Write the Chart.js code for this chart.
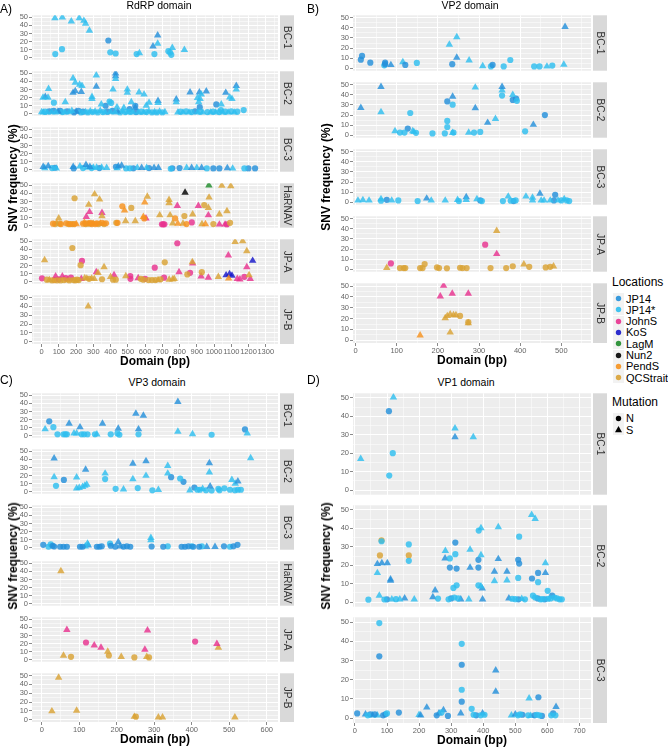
<!DOCTYPE html>
<html>
<head>
<meta charset="utf-8">
<script src="https://cdn.jsdelivr.net/npm/chart.js@4.4.1/dist/chart.umd.min.js"></script>
<style>
  body { margin: 0; background: #fff; width: 668px; height: 747px; position: relative; overflow: hidden;
         font-family: "Liberation Sans", Arial, sans-serif; }
  .t { position: absolute; white-space: nowrap; line-height: 1; color: #000; }
  canvas { position: absolute; }
</style>
</head>
<body>
<script>
// ── categories / tick labels ──
const LOCS = ['JP14', 'JP14*', 'JohnS', 'KoS', 'LagM', 'Nun2', 'PendS', 'QCStrait'];
const MUTS = ['N', 'S'];
const yTicks = [0, 10, 20, 30, 40, 50];
const rdrpXTicks = [0, 100, 200, 300, 400, 500, 600, 700, 800, 900, 1000, 1100, 1200, 1300];
const vp2XTicks = [0, 100, 200, 300, 400, 500];
const vp3XTicks = [0, 100, 200, 300, 400, 500, 600];
const vp1XTicks = [0, 100, 200, 300, 400, 500, 600, 700];

// ── points: [domain bp, SNV %, location index, mutation] ──
const rdrpBC1 = [
  [77,49,1,'S'],[120,50,1,'S'],[172,45,1,'S'],[218,49,1,'S'],[245,45.8,1,'S'],[255,42.3,1,'S'],[277,33.6,1,'S'],
  [79,4.5,1,'N'],[118,10.5,1,'N'],[387,21.3,0,'N'],[398,6.6,1,'N'],[429,5.2,1,'N'],[551,4.5,1,'N'],[567,5.6,1,'S'],
  [654,4.5,1,'N'],[646,14,0,'S'],[673,27.6,0,'S'],[673,17.5,1,'S'],[735,8,1,'N'],[745,6.3,1,'N'],[752,3.5,1,'N'],
  [758,12.2,1,'S'],[828,9.8,1,'S']
];
const rdrpBC2 = [
  [8,20,1,'S'],[21,21,0,'S'],[37,20,1,'S'],[40,30.8,1,'S'],[71,13.6,1,'N'],[137,14.3,1,'S'],
  [182,43.7,1,'S'],[195,38.5,1,'S'],[220,36,1,'S'],[234,34.6,1,'S'],[182,26,0,'S'],[195,28,0,'S'],[230,27,0,'S'],
  [317,47.5,1,'S'],[317,33.6,0,'S'],[292,21,1,'S'],[292,18.5,1,'S'],[346,11.5,1,'S'],
  [394,15,1,'N'],[403,13.3,1,'N'],[371,9.8,0,'N'],[429,50,0,'S'],[429,46.5,0,'S'],[429,43,1,'S'],[414,30,1,'S'],
  [437,8,1,'S'],[477,7.3,1,'S'],[497,30,1,'S'],[497,26,1,'S'],[510,5.6,0,'N'],[543,9.8,0,'N'],[543,7.3,0,'S'],
  [520,14.3,1,'S'],[565,26.5,1,'S'],[594,23.8,1,'S'],[623,13.6,1,'S'],[607,10,1,'S'],[675,16,0,'S'],[675,13.3,1,'S'],
  [781,17.8,0,'S'],[781,14.3,1,'S'],[861,26.5,0,'S'],[915,26.5,0,'S'],[926,23.8,1,'S'],[904,19.6,1,'S'],
  [919,18.5,1,'S'],[911,14.3,1,'S'],[917,8,0,'N'],[955,27.6,0,'S'],[1013,11.5,0,'N'],[1042,11.5,1,'S'],
  [1040,4.5,1,'N'],[1068,26,0,'S'],[1091,20.3,1,'S'],[1104,18.5,1,'S'],[1129,34.6,0,'S'],[1129,30,1,'S'],
  [1172,4.5,1,'N'],
  [0,2,1,'S'],[10,1.5,1,'S'],[20,2.5,1,'N'],[32,1.5,1,'S'],[45,3,0,'N'],[58,2,1,'S'],[70,3.5,0,'N'],[82,1.5,1,'S'],
  [95,2.5,0,'S'],[108,3.5,0,'N'],[120,2,1,'N'],[135,1.5,1,'S'],[148,3,0,'N'],[160,2,1,'S'],[175,3.5,1,'S'],
  [188,1.5,0,'N'],[200,2.5,0,'S'],[214,3.5,0,'N'],[228,1.5,1,'N'],[240,2.5,0,'N'],[255,2,1,'S'],[268,1.5,1,'N'],
  [282,3,1,'S'],[296,2,1,'N'],[310,2.5,1,'S'],[325,1.5,1,'N'],[340,3.5,1,'S'],[355,2,1,'N'],[368,1.5,1,'S'],
  [382,2.5,0,'N'],[398,2,1,'S'],[412,3.5,0,'N'],[426,1.5,1,'S'],[440,2.5,0,'S'],[455,1.5,1,'N'],[470,3,1,'S'],
  [485,2,1,'N'],[500,1.5,1,'S'],[515,2.5,1,'N'],[530,1.5,1,'S'],[548,2,0,'N'],[562,1.5,1,'S'],[578,2.5,1,'N'],
  [592,1.5,1,'S'],[608,2,1,'N'],[622,3,1,'S'],[640,1.5,1,'N'],[655,2,1,'S'],[668,1.5,1,'N'],[684,2.5,1,'S'],
  [700,1.5,1,'N'],[715,2,1,'S'],[790,1.5,1,'S'],[805,2.5,1,'N'],[820,1.5,1,'S'],[838,3,1,'N'],[855,1.5,1,'S'],
  [870,2,1,'N'],[890,3,0,'N'],[905,1.5,1,'S'],[920,2.5,1,'N'],[935,1.5,1,'S'],[962,2,1,'N'],[980,1.5,1,'S'],
  [995,2.5,1,'N'],[1010,1.5,1,'S'],[1030,2,1,'N'],[1050,1.5,1,'S'],[1065,2.5,1,'N'],[1082,1.5,1,'S'],
  [1100,3,1,'N'],[1118,1.5,1,'S'],[1135,2.5,1,'N']
];
const rdrpBC3 = [
  [9,3.5,0,'S'],[18,2,1,'S'],[38,4.5,0,'S'],[60,2,1,'N'],[77,2.4,0,'N'],[85,1.5,1,'S'],[183,3.5,0,'S'],[186,1.5,0,'N'],
  [222,4.2,1,'S'],[240,2,1,'N'],[257,6,0,'S'],[265,2.5,1,'S'],[280,3.5,0,'S'],[290,2,1,'N'],[300,2.5,1,'S'],
  [319,2.5,1,'S'],[335,2,0,'N'],[348,2.5,1,'S'],[377,2.4,1,'S'],[431,3.5,0,'N'],[438,2,1,'S'],[445,4.2,0,'S'],
  [464,5.2,0,'S'],[490,1.5,1,'N'],[512,1.7,1,'N'],[532,1.7,0,'N'],[555,2.4,1,'S'],[580,2.4,0,'S'],[609,2.4,1,'S'],
  [623,2,0,'N'],[652,2.4,0,'S'],[677,2.4,0,'S'],[749,1,1,'N'],[758,1.8,0,'N'],[800,2,0,'N'],[841,2.4,1,'S'],
  [870,2.4,0,'S'],[900,2.4,1,'S'],[928,2.4,0,'S'],[958,1.5,1,'N'],[996,1.5,0,'N'],[1031,1.5,0,'N'],[1077,2,0,'S'],
  [1108,1.5,1,'S'],[1176,1.5,1,'N'],[1199,1.5,0,'N'],[1238,1.5,0,'N']
];
const rdrpHaRNAV = [
  [66,2.5,6,'N'],[78,2,7,'N'],[88,2.5,6,'S'],[104,2.5,7,'N'],[112,2,6,'N'],[143,3,6,'N'],[155,2,7,'N'],[165,2,6,'N'],
  [178,2,7,'N'],[190,2,6,'N'],[201,2,6,'S'],[240,2.5,6,'N'],[248,4,6,'S'],[255,2,7,'N'],[262,3,6,'N'],[270,2,6,'S'],
  [278,2.5,7,'N'],[285,3.5,6,'N'],[292,2,6,'N'],[300,2.5,7,'S'],[310,2,6,'N'],[320,3,6,'N'],[330,2,7,'N'],
  [340,2.5,6,'S'],[350,3.5,6,'N'],[362,2,7,'N'],[373,3,6,'N'],
  [99,9,7,'S'],[191,34,7,'N'],[307,39,7,'S'],[336,32.5,7,'S'],[273,26,7,'S'],[350,12,7,'S'],[468,24,6,'N'],
  [481,19,6,'S'],[520,22,7,'N'],[613,36,7,'S'],[598,29,6,'S'],[590,11,6,'S'],[595,9,6,'N'],[685,13,7,'S'],
  [487,5.6,7,'S'],[543,5.6,7,'S'],[433,3.5,7,'N'],[440,3.5,6,'N'],
  [278,17,2,'S'],[259,11,2,'S'],[350,16,2,'S'],[605,9,2,'S'],[698,1.7,2,'N'],[705,1.7,2,'N'],[712,1.7,2,'N'],
  [787,24.5,2,'S'],[909,24.5,2,'S'],[967,13,2,'S'],[871,4,2,'N'],[1031,1.5,2,'S'],[1064,1.5,2,'S'],[1074,1.5,2,'N'],
  [1045,49.6,7,'S'],[1097,49,7,'S'],[971,35,7,'S'],[739,32,7,'S'],[739,28,7,'S'],[943,25.5,7,'N'],[967,22,7,'S'],
  [745,13,7,'S'],[774,9,6,'N'],[828,12,7,'N'],[876,14,7,'S'],[1031,14,7,'S'],[1075,18,7,'S'],[760,3,7,'S'],
  [790,2.5,6,'S'],[820,2.5,7,'S'],[840,2,6,'N'],[930,2,7,'S'],[950,2,6,'S'],[996,2,7,'N'],[1093,3.5,7,'N'],
  [832,41,5,'S'],[970,50,4,'S']
];
const rdrpJPA = [
  [17,26.7,7,'S'],[178,41.7,7,'N'],[226,20.5,7,'N'],[234,25.7,2,'N'],[317,12,2,'S'],[327,11,7,'S'],[362,18,7,'S'],
  [420,8.3,2,'S'],[514,7,2,'N'],[488,7,7,'S'],[656,17.4,2,'N'],[714,24,7,'N'],[2,4.2,2,'N'],[81,6.6,2,'S'],
  [120,6.6,2,'S'],[262,4,7,'S'],[290,4,7,'S'],[400,6,7,'S'],[414,2.4,7,'N'],
  [30,2.5,7,'N'],[45,2,7,'S'],[60,1.5,7,'N'],[75,2,6,'N'],[90,1.5,7,'N'],[100,3,2,'N'],[110,1.5,7,'N'],
  [130,2,7,'N'],[140,4.5,2,'N'],[150,2,6,'S'],[160,1.5,7,'N'],[170,5,2,'N'],[185,2,7,'N'],[195,1.5,7,'N'],
  [205,2.5,7,'N'],[215,2,7,'N'],[230,3.5,2,'S'],[250,4.5,7,'S'],[275,3.5,7,'N'],[305,3.5,7,'S'],[350,3,7,'N'],
  [430,2.5,7,'N'],[515,3.5,2,'N'],[560,4.5,2,'S'],[575,3.5,7,'N'],[590,2.5,7,'N'],[600,3.5,2,'N'],[620,2,7,'N'],
  [640,2,7,'N'],[660,2,7,'N'],[675,2,7,'S'],[690,3,7,'N'],[740,2.5,7,'S'],[760,3,7,'S'],
  [787,47.6,2,'N'],[1122,49.3,7,'S'],[1166,50.3,7,'S'],[1190,38,7,'S'],[1083,32.6,2,'S'],[874,24.3,7,'S'],
  [876,22.6,2,'S'],[1190,18,2,'S'],[797,11.8,2,'S'],[929,11.8,7,'N'],[861,11,2,'N'],[845,9,7,'N'],[1025,6,7,'S'],
  [967,5,2,'S'],[925,6.6,2,'S'],[710,5,2,'N'],[769,3.5,7,'S'],[1135,3.5,2,'S'],[1150,3,2,'S'],[1176,6,2,'N'],
  [1203,8.3,7,'S'],[1210,3.5,2,'S'],[1085,4,6,'S'],
  [1224,26,3,'S'],[1070,8,3,'S'],[1090,9.4,3,'S'],[1104,7.6,3,'S']
];
const rdrpJPB = [[270,40,7,'S']];

const vp2BC1 = [
  [13,8.4,0,'N'],[16,12.2,0,'N'],[36,5.5,0,'N'],[72,5.5,0,'N'],[72,4,0,'N'],[70,2.8,1,'N'],[86,3.2,0,'S'],
  [115,6.1,1,'S'],[121,3.2,0,'N'],[149,5.2,1,'N'],[228,23.5,1,'S'],[246,30.8,1,'S'],[246,10.5,0,'S'],[235,4,0,'N'],
  [276,7.8,1,'S'],[309,2,1,'S'],[329,1.7,1,'N'],[333,3.2,0,'N'],[360,1.7,1,'N'],[376,8.1,1,'N'],[434,1.7,1,'N'],
  [447,1.7,1,'N'],[465,1.7,1,'S'],[478,2.6,1,'N'],[509,41,0,'S'],[506,3.5,1,'S']
];
const vp2BC2 = [
  [13,27.2,0,'S'],[62,48,0,'S'],[62,23,1,'S'],[96,4,1,'S'],[108,2.6,1,'N'],[119,2.6,1,'N'],[127,6.6,0,'N'],
  [133,22,1,'N'],[139,4,1,'S'],[142,3.2,1,'S'],[147,2.3,1,'N'],[187,1.7,1,'N'],[217,1.7,1,'N'],[223,33.5,0,'N'],
  [223,14.2,1,'N'],[223,8.1,1,'N'],[236,38.4,0,'S'],[236,30.3,1,'N'],[236,2.3,1,'S'],[238,2.6,1,'N'],
  [275,2.6,1,'S'],[288,2.6,1,'N'],[291,47.4,1,'S'],[291,26.9,0,'S'],[303,3.2,1,'N'],[321,12.4,0,'S'],
  [340,16.2,1,'S'],[356,48,0,'S'],[356,44.5,1,'S'],[356,39.3,1,'N'],[382,40,1,'S'],[382,35,0,'N'],[390,36.4,0,'N'],
  [392,34.1,1,'N'],[412,3.8,1,'N'],[432,10.4,0,'S'],[460,20,0,'N']
];
const vp2BC3 = [
  [6,1.7,1,'S'],[18,2,1,'S'],[33,1.7,1,'S'],[62,3.1,1,'S'],[62,1.4,1,'N'],[76,2.3,0,'N'],[88,1.7,1,'S'],
  [104,1.7,1,'N'],[151,1.1,1,'N'],[173,3.7,0,'S'],[184,1.7,1,'S'],[218,1.7,1,'S'],[248,2.3,1,'S'],[251,1.1,1,'N'],
  [269,5.1,0,'S'],[269,2.3,1,'S'],[295,3.1,1,'S'],[303,1.7,0,'N'],[307,1.1,1,'N'],[358,1.1,1,'N'],[371,5.7,1,'S'],
  [377,1.4,1,'N'],[384,1.1,0,'N'],[389,1.7,1,'N'],[414,5.7,1,'S'],[430,4.6,1,'S'],[430,1.7,1,'S'],[448,8.6,0,'S'],
  [451,1.7,1,'S'],[458,1.7,1,'S'],[473,1.7,1,'S'],[485,7.4,0,'N'],[482,1.7,0,'N'],[492,1.7,1,'S'],[500,1.7,1,'N'],
  [507,3.1,1,'S'],[513,1.7,1,'N'],[519,1.1,1,'N']
];
const vp2JPA = [
  [86,5.7,2,'N'],[76,1.4,7,'S'],[108,1.1,7,'N'],[117,1.1,7,'N'],[121,1.1,7,'N'],[157,1.1,7,'N'],[163,1.1,7,'N'],
  [168,5.1,7,'N'],[198,1.7,7,'N'],[203,1.1,7,'N'],[222,0.9,7,'N'],[254,1.4,7,'N'],[260,1.1,7,'N'],[270,1.1,7,'N'],
  [315,24.3,2,'N'],[343,38,7,'S'],[343,15.1,2,'S'],[328,1.1,7,'N'],[366,1.1,7,'N'],[382,2.9,7,'N'],[409,4.9,7,'S'],
  [422,2.3,7,'N'],[462,1.7,7,'N'],[473,2.3,7,'N'],[481,2.9,7,'S']
];
const vp2JPB = [
  [214,50.3,2,'S'],[206,40.5,2,'S'],[235,43,2,'S'],[274,43,2,'S'],[218,20.4,7,'S'],[223,22.4,7,'S'],[230,23.9,7,'S'],
  [238,23.3,7,'S'],[244,23.3,7,'S'],[254,22.4,7,'N'],[274,15.8,7,'S'],[274,16.7,7,'N'],[230,7.2,7,'S'],[157,4.6,6,'S']
];

const vp3BC1 = [
  [9,8,1,'S'],[20,17.8,0,'N'],[31,10.5,1,'N'],[42,1.7,1,'N'],[58,1.7,1,'N'],[63,1.7,1,'N'],[67,1.7,1,'N'],
  [73,15,0,'S'],[86,2.8,1,'S'],[93,2.8,1,'S'],[102,10.5,0,'S'],[106,1.7,1,'N'],[113,1.7,1,'N'],[122,1.7,1,'N'],
  [142,1.7,1,'N'],[147,1.7,1,'S'],[162,15,0,'S'],[184,1.7,1,'N'],[204,8.7,0,'S'],[202,2.8,1,'N'],[207,1,1,'N'],
  [251,27.3,0,'S'],[271,24.8,0,'S'],[258,8,0,'S'],[258,1.7,1,'N'],[363,42,0,'S'],[363,5.2,1,'S'],[402,2.1,1,'S'],
  [453,1,1,'N'],[542,7.7,0,'N'],[548,2.8,1,'S']
];
const vp3BC2 = [
  [33,41.3,0,'S'],[33,18,1,'S'],[38,7.3,1,'N'],[59,14.6,0,'N'],[93,17.7,1,'S'],[93,4.2,1,'S'],[100,4.9,1,'S'],
  [109,5.9,1,'S'],[115,7.6,1,'S'],[117,27.4,0,'S'],[120,8.7,1,'S'],[169,22.6,1,'S'],[169,15.6,1,'N'],[197,3.5,1,'N'],
  [218,2.8,1,'S'],[243,34.7,0,'S'],[243,15.6,1,'S'],[256,4.5,1,'N'],[278,37.8,0,'S'],[278,19.8,1,'S'],
  [295,1.7,1,'N'],[311,2.4,1,'S'],[336,32,1,'S'],[336,22.6,1,'S'],[345,18,0,'N'],[369,16.3,1,'N'],[378,12.2,0,'N'],
  [395,1.7,1,'S'],[407,5.2,0,'N'],[415,2.4,1,'N'],[422,2.4,1,'N'],[429,3.5,1,'S'],[438,1.7,1,'N'],[447,35.4,0,'S'],
  [447,24,1,'S'],[449,6.6,0,'S'],[453,1.4,1,'N'],[471,3.5,1,'N'],[474,1.7,1,'N'],[487,4.2,1,'N'],[502,2.4,1,'N'],
  [507,14.6,1,'S'],[516,10,1,'S'],[523,12.8,0,'S'],[515,1.7,1,'N'],[523,2.4,1,'N'],[531,2.4,1,'N'],[557,41.7,1,'S']
];
const vp3BC3 = [
  [4,3.5,0,'N'],[18,1,1,'N'],[24,4.2,1,'N'],[29,2.4,0,'N'],[33,1.4,0,'N'],[49,1,0,'N'],[58,1,0,'N'],[67,1,0,'N'],
  [102,1,0,'N'],[109,1,0,'N'],[116,1.7,1,'S'],[122,5.2,1,'S'],[124,2.8,0,'S'],[147,1,0,'N'],[154,1,0,'N'],
  [160,1.7,0,'N'],[182,5.2,1,'N'],[184,2.4,0,'N'],[196,1,0,'N'],[204,6.9,0,'S'],[209,1.7,0,'S'],[218,1,0,'N'],
  [227,1.7,0,'N'],[236,1,0,'N'],[291,12.2,1,'S'],[291,9.4,1,'S'],[293,1.4,0,'N'],[324,1,0,'N'],[336,1.7,1,'N'],
  [373,1,0,'N'],[382,1,0,'N'],[391,1.7,0,'N'],[400,1.7,1,'N'],[404,1,0,'N'],[420,1,0,'N'],[427,1.7,1,'N'],
  [440,1,0,'S'],[462,1,0,'S'],[486,1.7,0,'N'],[502,1,1,'N'],[511,1.7,0,'N'],[522,3.5,0,'N']
];
const vp3HaRNAV = [[51,40.5,7,'S']];
const vp3JPA = [
  [67,37,2,'S'],[118,21.3,2,'N'],[140,17.8,2,'S'],[158,15,2,'S'],[176,10.1,7,'S'],[179,5.2,7,'N'],[58,5.2,7,'S'],
  [78,3.5,7,'N'],[212,3.5,7,'S'],[247,2.8,7,'N'],[275,12.6,2,'S'],[282,36.4,2,'S'],[280,3.5,7,'S'],[286,2.8,7,'N'],
  [409,22.4,2,'N'],[467,19.6,2,'S'],[471,15,7,'S']
];
const vp3JPB = [
  [27,9.7,7,'S'],[45,47.6,7,'S'],[93,10.4,7,'S'],[247,3.5,7,'S'],[251,3.5,7,'N'],[311,2.8,7,'S'],[322,2.8,7,'S'],
  [515,2.8,7,'S']
];

const vp1BC1 = [
  [18,17,1,'S'],[106,42.8,0,'N'],[120,50.3,1,'S'],[118,20,1,'N'],[107,7.9,1,'N'],[312,33.5,1,'S'],[312,28.8,0,'S'],
  [369,28.8,1,'S']
];
const vp1BC2 = [
  [551,47.3,1,'S'],[562,45.2,1,'S'],[393,40.2,1,'S'],[386,38.8,1,'N'],[447,40.7,1,'S'],[512,35.5,1,'N'],
  [83,33,1,'N'],[168,31.3,1,'N'],[313,32.3,0,'N'],[282,27.8,1,'S'],[359,28.5,1,'S'],[313,26,1,'N'],
  [393,25.5,1,'S'],[70,20.7,0,'S'],[84,21.2,0,'S'],[101,21.2,0,'S'],[70,15.8,1,'S'],[168,22.4,1,'N'],[281,23.7,0,'S'],
  [296,23.7,1,'N'],[296,18.7,0,'N'],[317,18.2,0,'N'],[307,7.7,1,'N'],[317,9.1,1,'N'],[359,18.7,0,'S'],[385,18.7,0,'N'],
  [385,22.9,0,'N'],[393,8.6,1,'S'],[397,7.4,0,'S'],[385,9.1,1,'N'],[447,23.4,0,'S'],[435,16.5,0,'S'],[435,11.4,1,'S'],
  [474,16.5,0,'S'],[474,11.8,1,'S'],[509,22.9,0,'N'],[512,20.9,0,'N'],[509,13.1,1,'N'],[552,12.8,0,'N'],
  [571,15.8,0,'N'],[571,10.8,1,'N'],[594,21.2,1,'S'],[594,15.8,0,'S'],[601,6.1,1,'N'],[111,12.3,0,'S'],
  [111,11.6,0,'S'],[250,6.4,0,'S'],[243,2.7,0,'S'],[259,1.9,1,'N'],[76,3.5,1,'S'],[42,1.3,1,'N'],
  [92,1.4,1,'N'],[100,1.5,0,'N'],[115,1.5,1,'S'],[128,1.6,1,'N'],[140,1.5,1,'S'],[155,2,0,'S'],[185,1.5,1,'S'],
  [292,1.5,1,'N'],[300,2,0,'N'],[310,2.5,1,'N'],[322,2,1,'N'],[330,1.5,0,'S'],[355,1.5,1,'S'],[398,1.5,0,'S'],
  [480,2,0,'S'],[490,1.8,1,'N'],[500,1.6,1,'N'],[510,1.5,0,'N'],[520,1.8,1,'S'],[530,1.5,1,'N'],[555,3.5,1,'N'],
  [562,2.5,1,'N'],[570,2,0,'N'],[578,1.5,1,'N'],[585,1.6,1,'N'],[592,1.5,0,'N'],[602,1.8,1,'N'],[610,2,1,'N'],
  [615,3.5,0,'N'],[622,2.5,1,'N'],[630,2,1,'N'],[638,1.5,1,'N'],[645,1.5,1,'N'],
  [83,33.5,7,'N'],[78,25.3,7,'N'],[168,25.3,7,'N']
];
const vp1BC3 = [
  [76,49.5,1,'N'],[76,32.2,0,'N'],[333,38.7,1,'N'],[333,27.8,0,'N'],[333,14.8,1,'N'],[333,8.6,0,'N'],[439,24.9,0,'S'],
  [439,13.8,0,'S'],[364,4.9,1,'N'],[543,10.3,1,'S'],[572,10.9,0,'N'],[627,5.9,0,'S'],[224,5.6,0,'S'],[276,4.2,0,'S'],
  [330,2.5,0,'S'],[7,2.5,0,'N'],[137,2.9,0,'N'],
  [33,2,0,'S'],[40,1.5,1,'N'],[48,2,0,'N'],[55,1.5,1,'S'],[62,2,0,'N'],[70,1.5,1,'S'],[88,1.5,0,'N'],[95,2,0,'N'],
  [100,2.5,1,'N'],[200,1.8,1,'S'],[205,1.5,0,'S'],[255,1.5,0,'N'],[262,2.5,0,'S'],[270,3,1,'N'],[290,1.2,0,'N'],
  [370,1.8,1,'N'],[378,1.5,0,'N'],[392,1.5,1,'N'],[398,2.5,0,'S'],[404,1.8,1,'N'],[488,1.5,1,'S'],[500,2,0,'S'],
  [508,1.5,1,'N'],[515,2,1,'N'],[522,1.8,0,'N'],[540,1.5,1,'N'],[548,1.2,1,'S'],[560,1.5,0,'N'],[567,1.8,1,'N'],
  [575,1.5,1,'N'],[583,1.2,0,'N'],[612,1.5,1,'N'],[618,2.5,0,'N'],[625,1.5,1,'N']
];

// ── style ──
const FONT = '"Liberation Sans", Arial, sans-serif';
const LOC_COLORS = ['#2490DA', '#2EBEEF', '#E8328F', '#1616C9', '#1F8B2B', '#000000', '#F6921E', '#D9A235'];
const PANEL_BG = '#EDEDED';
const STRIP_BG = '#D9D9D9';
const AXW = 26;        // ความกว้างแกน y
const XAXH = 25;       // ความสูงแกน x (facet ล่างสุด)
const STRIP_GAP = 2;
const STRIP_W = 14;

const PANELS = [
  { tag: 'A)', tagX: 0, tagY: 9, title: 'RdRP domain', titleX: 159, titleY: 5,
    left: 32, right: 278, top: 11, step: 56, h: 53, xMin: -56, xMax: 1371, xTicks: rdrpXTicks, yTitleX: 13,
    facets: [['BC-1', rdrpBC1], ['BC-2', rdrpBC2], ['BC-3', rdrpBC3], ['HaRNAV', rdrpHaRNAV], ['JP-A', rdrpJPA], ['JP-B', rdrpJPB]] },
  { tag: 'B)', tagX: 307, tagY: 9, title: 'VP2 domain', titleX: 470, titleY: 5,
    left: 353, right: 591, top: 11, step: 67, h: 64, xMin: -6, xMax: 572, xTicks: vp2XTicks, yTitleX: 326,
    facets: [['BC-1', vp2BC1], ['BC-2', vp2BC2], ['BC-3', vp2BC3], ['JP-A', vp2JPA], ['JP-B', vp2JPB]] },
  { tag: 'C)', tagX: 0, tagY: 380, title: 'VP3 domain', titleX: 157, titleY: 381.5,
    left: 32, right: 278, top: 389, step: 56, h: 53, xMin: -26, xMax: 630, xTicks: vp3XTicks, yTitleX: 13,
    facets: [['BC-1', vp3BC1], ['BC-2', vp3BC2], ['BC-3', vp3BC3], ['HaRNAV', vp3HaRNAV], ['JP-A', vp3JPA], ['JP-B', vp3JPB]] },
  { tag: 'D)', tagX: 307, tagY: 380, title: 'VP1 domain', titleX: 466, titleY: 381.5,
    left: 353, right: 591, top: 389, step: 112, h: 110, xMin: -6, xMax: 736, xTicks: vp1XTicks, yTitleX: 326,
    facets: [['BC-1', vp1BC1], ['BC-2', vp1BC2], ['BC-3', vp1BC3]] }
];

function rgba(hex, a) {
  const n = parseInt(hex.slice(1), 16);
  return `rgba(${(n >> 16) & 255},${(n >> 8) & 255},${n & 255},${a})`;
}

// major ticks + minor midpoints (ggplot minor grid)
function withMinor(major, min, max) {
  const step = major[1] - major[0];
  const out = major.map(v => ({ value: v }));
  for (let v = major[0] - step / 2; v <= major[major.length - 1] + step; v += step) {
    out.push({ value: v, minor: true });
  }
  return out.filter(t => t.value >= min && t.value <= max).sort((a, b) => a.value - b.value);
}

function buildDatasets(rows) {
  const groups = {};
  rows.forEach(([x, y, loc, mut]) => {
    const key = 'k' + loc + mut;
    if (!groups[key]) groups[key] = { loc, mut, pts: [] };
    groups[key].pts.push({ x, y });
  });
  return Object.values(groups).map(g => ({
    data: g.pts,
    pointStyle: g.mut === 'N' ? 'circle' : 'triangle',
    pointRadius: g.mut === 'N' ? 3.1 : 4.3,
    backgroundColor: rgba(LOC_COLORS[g.loc], 0.82),
    borderWidth: 0
  }));
}

// ── พื้นหลัง panel + แถบชื่อ facet ──
const facetPlugin = {
  id: 'facet',
  beforeDraw(chart) {
    const a = chart.chartArea, ctx = chart.ctx;
    ctx.save();
    ctx.fillStyle = PANEL_BG;
    ctx.fillRect(a.left, a.top, a.right - a.left, a.bottom - a.top);
    ctx.restore();
  },
  afterDraw(chart, args, opts) {
    const a = chart.chartArea, ctx = chart.ctx;
    const x0 = a.right + STRIP_GAP;
    ctx.save();
    ctx.fillStyle = STRIP_BG;
    ctx.fillRect(x0, a.top, STRIP_W, a.bottom - a.top);
    ctx.translate(x0 + STRIP_W / 2, (a.top + a.bottom) / 2);
    ctx.rotate(Math.PI / 2);
    ctx.fillStyle = '#333';
    ctx.font = `10px ${FONT}`;
    ctx.textAlign = 'center';
    ctx.textBaseline = 'middle';
    ctx.fillText(opts.label, 0, 0.5);
    ctx.restore();
  }
};

function gridOpts(showTicks) {
  return {
    color: '#ffffff',
    lineWidth: c => (c.tick && c.tick.minor ? 0.5 : 1),
    drawTicks: showTicks,
    tickLength: 3,
    tickWidth: 1,
    tickColor: c => (c.tick && c.tick.minor ? 'rgba(0,0,0,0)' : '#8a8a8a')
  };
}

function makeFacet(p, idx, label, rows) {
  const isLast = idx === p.facets.length - 1;
  const w = AXW + (p.right - p.left) + STRIP_GAP + STRIP_W;
  const hgt = p.h + (isLast ? XAXH : 0);
  const cv = document.createElement('canvas');
  cv.width = w;
  cv.height = hgt;
  cv.style.left = (p.left - AXW) + 'px';
  cv.style.top = (p.top + idx * p.step) + 'px';
  cv.style.width = w + 'px';
  cv.style.height = hgt + 'px';
  document.body.appendChild(cv);

  const tickLabel = (v, i, ticks) => (ticks[i] && ticks[i].minor ? '' : String(v));

  new Chart(cv, {
    type: 'scatter',
    data: { datasets: buildDatasets(rows) },
    plugins: [facetPlugin],
    options: {
      responsive: false,
      animation: false,
      events: [],
      layout: { padding: { left: 0, top: 0, right: STRIP_GAP + STRIP_W, bottom: 0 } },
      plugins: { legend: { display: false }, tooltip: { enabled: false }, facet: { label } },
      scales: {
        x: {
          type: 'linear', min: p.xMin, max: p.xMax,
          afterBuildTicks: s => { s.ticks = withMinor(p.xTicks, p.xMin, p.xMax); },
          afterFit: s => { s.height = isLast ? XAXH : 0; s.paddingLeft = 0; s.paddingRight = 0; },
          border: { display: false },
          grid: gridOpts(isLast),
          ticks: { display: isLast, autoSkip: false, maxRotation: 0, padding: 0, color: '#666',
                   font: { size: 7.5, family: FONT }, callback: tickLabel },
          title: { display: isLast, text: 'Domain (bp)', color: '#000', padding: { top: 0, bottom: 0 },
                   font: { size: 12, weight: 'bold', family: FONT } }
        },
        y: {
          type: 'linear', min: -2.5, max: 52.5,
          afterBuildTicks: s => { s.ticks = withMinor(yTicks, -2.5, 52.5); },
          afterFit: s => { s.width = AXW; s.paddingTop = 0; s.paddingBottom = 0; },
          border: { display: false },
          grid: gridOpts(true),
          ticks: { autoSkip: false, padding: 1, color: '#666', font: { size: 7.5, family: FONT }, callback: tickLabel }
        }
      }
    }
  });
}

function addText(txt, x, y, css, anchor) {
  const d = document.createElement('div');
  d.className = 't';
  d.textContent = txt;
  d.style.left = x + 'px';
  d.style.top = y + 'px';
  d.style.transform = anchor || 'translate(0,-50%)';
  Object.assign(d.style, css || {});
  document.body.appendChild(d);
  return d;
}

PANELS.forEach(p => {
  p.facets.forEach(([label, rows], i) => makeFacet(p, i, label, rows));
  addText(p.tag, p.tagX, p.tagY, { fontSize: '12px' });
  addText(p.title, p.titleX, p.titleY, { fontSize: '10.5px' }, 'translate(-50%,-50%)');
  const bottom = p.top + (p.facets.length - 1) * p.step + p.h;
  addText('SNV frequency (%)', p.yTitleX, (p.top + bottom) / 2, { fontSize: '12px', fontWeight: 'bold' },
          'translate(-50%,-50%) rotate(-90deg)');
});

// ── legend ──
function legendKey(x, y, shape, color) {
  const ns = 'http://www.w3.org/2000/svg';
  const svg = document.createElementNS(ns, 'svg');
  svg.setAttribute('width', 11);
  svg.setAttribute('height', 11);
  svg.style.position = 'absolute';
  svg.style.left = (x - 5.5) + 'px';
  svg.style.top = (y - 5.5) + 'px';
  const bg = document.createElementNS(ns, 'rect');
  bg.setAttribute('width', 11); bg.setAttribute('height', 11); bg.setAttribute('fill', '#F2F2F2');
  svg.appendChild(bg);
  let m;
  if (shape === 'N') {
    m = document.createElementNS(ns, 'circle');
    m.setAttribute('cx', 5.5); m.setAttribute('cy', 5.5); m.setAttribute('r', 2.7);
  } else {
    m = document.createElementNS(ns, 'polygon');
    m.setAttribute('points', '5.5,2 9,8.2 2,8.2');
  }
  m.setAttribute('fill', color);
  svg.appendChild(m);
  document.body.appendChild(svg);
}

addText('Locations', 612, 282, { fontSize: '12px' });
LOCS.forEach((name, i) => {
  const y = 298.5 + i * 11.3;
  legendKey(618, y, 'N', rgba(LOC_COLORS[i], 0.9));
  addText(name, 626, y, { fontSize: '11px' });
});
addText('Mutation', 612, 402, { fontSize: '12px' });
MUTS.forEach((m, i) => {
  const y = 418 + i * 11.5;
  legendKey(618, y, m, '#000');
  addText(m, 626, y, { fontSize: '11px' });
});
</script>
</body>
</html>
